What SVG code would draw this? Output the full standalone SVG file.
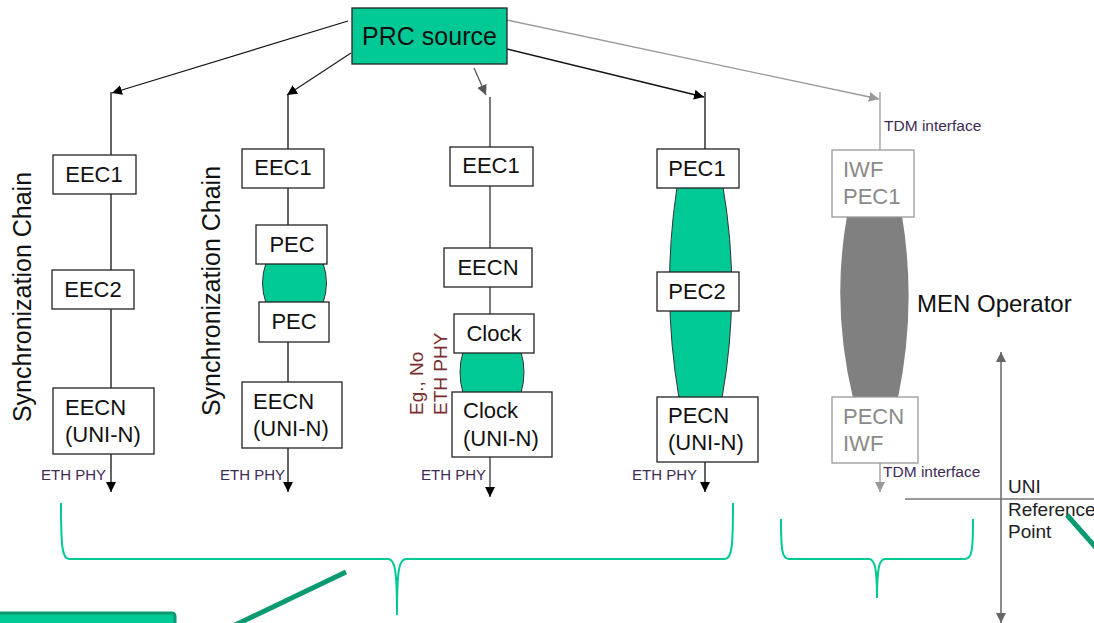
<svg xmlns="http://www.w3.org/2000/svg" width="1094" height="623" viewBox="0 0 1094 623">
<defs>
<marker id="ab" viewBox="0 0 10 10" refX="10" refY="5" markerWidth="10" markerHeight="10" markerUnits="userSpaceOnUse" orient="auto"><path d="M0,0 L10,5 L0,10 Z" fill="#000"/></marker>
<marker id="ag" viewBox="0 0 10 10" refX="10" refY="5" markerWidth="10" markerHeight="10" markerUnits="userSpaceOnUse" orient="auto"><path d="M0,0 L10,5 L0,10 Z" fill="#555"/></marker>
<marker id="al" viewBox="0 0 10 10" refX="10" refY="5" markerWidth="10" markerHeight="10" markerUnits="userSpaceOnUse" orient="auto"><path d="M0,0 L10,5 L0,10 Z" fill="#999"/></marker>
<marker id="au" viewBox="0 0 10 10" refX="10" refY="5" markerWidth="10" markerHeight="10" markerUnits="userSpaceOnUse" orient="auto-start-reverse"><path d="M0,0 L10,5 L0,10 Z" fill="#666"/></marker>
</defs>
<style>
text{font-family:"Liberation Sans",Arial,sans-serif;}
.box{fill:#fff;stroke:#222;stroke-width:1.3;}
.gbox{fill:#fff;stroke:#999;stroke-width:1.3;}
.lbl{font-size:22px;fill:#111;}
.glbl{font-size:22px;fill:#8a8a8a;}
.mid{text-anchor:middle;}
.lens{fill:#00C995;stroke:#333;stroke-width:1;}
.glens{fill:#808080;stroke:none;}
.eth{font-size:15px;fill:#3d2a55;text-anchor:end;}
.tdm{font-size:15.5px;fill:#3d2a55;}
.vline{stroke:#111;stroke-width:1.3;fill:none;}
.brace{fill:none;stroke:#00C995;stroke-width:2;}
.dg{stroke:#0A9A72;stroke-width:5;}
</style>

<g id="connectors">
<line x1="348" y1="21" x2="112" y2="93" stroke="#111" stroke-width="1.3" marker-end="url(#ab)"/>
<line x1="351" y1="53" x2="287" y2="95" stroke="#222" stroke-width="1.3" marker-end="url(#ab)"/>
<line x1="474" y1="68" x2="486" y2="95" stroke="#555" stroke-width="1.3" marker-end="url(#ag)"/>
<line x1="507" y1="49" x2="704" y2="97" stroke="#111" stroke-width="1.5" marker-end="url(#ab)"/>
<line x1="507" y1="20" x2="879" y2="99" stroke="#999" stroke-width="1.3" marker-end="url(#al)"/>
<line class="vline" x1="111" y1="92" x2="111" y2="492" marker-end="url(#ab)"/>
<line class="vline" x1="288" y1="95" x2="288" y2="492" marker-end="url(#ab)"/>
<line x1="490" y1="97" x2="490" y2="497" stroke="#333" stroke-width="1.3" marker-end="url(#ab)"/>
<line class="vline" x1="705" y1="92" x2="705" y2="492" marker-end="url(#ab)"/>
<line x1="880" y1="92" x2="880" y2="492" stroke="#999" stroke-width="1.3" marker-end="url(#al)"/>
<line x1="1001" y1="352" x2="1001" y2="623" stroke="#666" stroke-width="1.5" marker-start="url(#au)" marker-end="url(#au)"/>
<line x1="905" y1="499" x2="1094" y2="499" stroke="#777" stroke-width="1.5"/>
</g>

<g id="prc">
<rect x="352" y="8" width="155" height="56" fill="#00C995" stroke="#222" stroke-width="1.3"/>
<text x="429.5" y="45" font-size="25" fill="#111" class="mid">PRC source</text>
</g>

<g id="col1">
<text transform="translate(31,297) rotate(-90)" font-size="25" fill="#111" class="mid">Synchronization Chain</text>
<g id="c1-eec1"><rect class="box" x="53" y="155" width="83" height="39"/><text class="lbl mid" x="94" y="182">EEC1</text></g>
<g id="c1-eec2"><rect class="box" x="52" y="270" width="82" height="39"/><text class="lbl mid" x="93" y="297">EEC2</text></g>
<g id="c1-eecn"><rect class="box" x="53" y="388" width="101" height="66"/><text class="lbl" x="65" y="415">EECN</text><text class="lbl" x="65" y="442">(UNI-N)</text></g>
<text class="eth" x="106" y="480">ETH PHY</text>
</g>

<g id="col2">
<text transform="translate(220,291) rotate(-90)" font-size="25" fill="#111" class="mid">Synchronization Chain</text>
<path class="lens" d="M266,263 Q259,283 266,303 L323,303 Q330,283 323,263 Z"/>
<g id="c2-eec1"><rect class="box" x="242" y="149" width="82" height="39"/><text class="lbl mid" x="283" y="175">EEC1</text></g>
<g id="c2-pec-a"><rect class="box" x="256" y="225" width="71" height="39"/><text class="lbl mid" x="292" y="252">PEC</text></g>
<g id="c2-pec-b"><rect class="box" x="259" y="302" width="70" height="40"/><text class="lbl mid" x="294" y="329">PEC</text></g>
<g id="c2-eecn"><rect class="box" x="242" y="382" width="100" height="66"/><text class="lbl" x="253" y="409">EECN</text><text class="lbl" x="253" y="436">(UNI-N)</text></g>
<text class="eth" x="285" y="480">ETH PHY</text>
</g>

<g id="col3">
<path class="lens" d="M463,352 Q457,372 463,393 L521,393 Q527,372 521,352 Z"/>
<g id="c3-eec1"><rect class="box" x="450" y="147" width="83" height="39"/><text class="lbl mid" x="491" y="173">EEC1</text></g>
<g id="c3-eecn"><rect class="box" x="444" y="248" width="88" height="39"/><text class="lbl mid" x="488" y="275">EECN</text></g>
<g id="c3-clock"><rect class="box" x="454" y="314" width="80" height="39"/><text class="lbl mid" x="494" y="341">Clock</text></g>
<g id="c3-clockn"><rect class="box" x="452" y="392" width="100" height="65"/><text class="lbl" x="463" y="418">Clock</text><text class="lbl" x="463" y="446">(UNI-N)</text></g>
<text transform="translate(423,415) rotate(-90)" font-size="19" fill="#7A2E2E">Eg., No</text>
<text transform="translate(447,415) rotate(-90)" font-size="19" fill="#7A2E2E">ETH PHY</text>
<text class="eth" x="486" y="480">ETH PHY</text>
</g>

<g id="col4">
<path class="lens" d="M677,187 Q661,292 679,398 L722,398 Q741,292 723,187 Z"/>
<g id="c4-pec1"><rect class="box" x="657" y="149" width="82" height="39"/><text class="lbl mid" x="697" y="176">PEC1</text></g>
<g id="c4-pec2"><rect class="box" x="657" y="272" width="82" height="39"/><text class="lbl mid" x="697" y="299">PEC2</text></g>
<g id="c4-pecn"><rect class="box" x="657" y="397" width="101" height="65"/><text class="lbl" x="668" y="423">PECN</text><text class="lbl" x="668" y="450">(UNI-N)</text></g>
<text class="eth" x="697" y="480">ETH PHY</text>
</g>

<g id="col5">
<text class="tdm" x="884" y="131">TDM interface</text>
<path class="glens" d="M847,216 Q831,306 853,398 L898,398 Q917,306 902,216 Z"/>
<g id="c5-iwf1"><rect class="gbox" x="832" y="150" width="82" height="67"/><text class="glbl" x="843" y="177">IWF</text><text class="glbl" x="843" y="204">PEC1</text></g>
<g id="c5-iwf2"><rect class="gbox" x="832" y="397" width="86" height="66"/><text class="glbl" x="843" y="424">PECN</text><text class="glbl" x="843" y="451">IWF</text></g>
<text class="tdm" x="883" y="477">TDM interface</text>
<text x="917" y="312" font-size="24" fill="#111">MEN Operator</text>
</g>

<g id="uni">
<text x="1008" y="493" font-size="19" fill="#222">UNI</text>
<text x="1008" y="516" font-size="19" fill="#222">Reference</text>
<text x="1008" y="538" font-size="19" fill="#222">Point</text>
</g>

<g id="braces">
<path class="brace" d="M61,503 C61,545 62,559 69,559 L388,559 C395,559 397,570 397,615 C397,570 399,559 406,559 L725,559 C732,559 733,545 733,503"/>
<path class="brace" d="M781,519 C781,550 782,559 789,559 L869,559 C875,559 877,570 877,598 C877,570 879,559 885,559 L965,559 C972,559 973,550 973,519"/>
</g>

<g id="decor">
<line class="dg" x1="346" y1="572" x2="233" y2="626"/>
<line class="dg" x1="1067" y1="515" x2="1098" y2="550"/>
<rect x="-6" y="613" width="181" height="22" rx="3" fill="#00C995" stroke="#0A9A72" stroke-width="3"/>
</g>
</svg>
